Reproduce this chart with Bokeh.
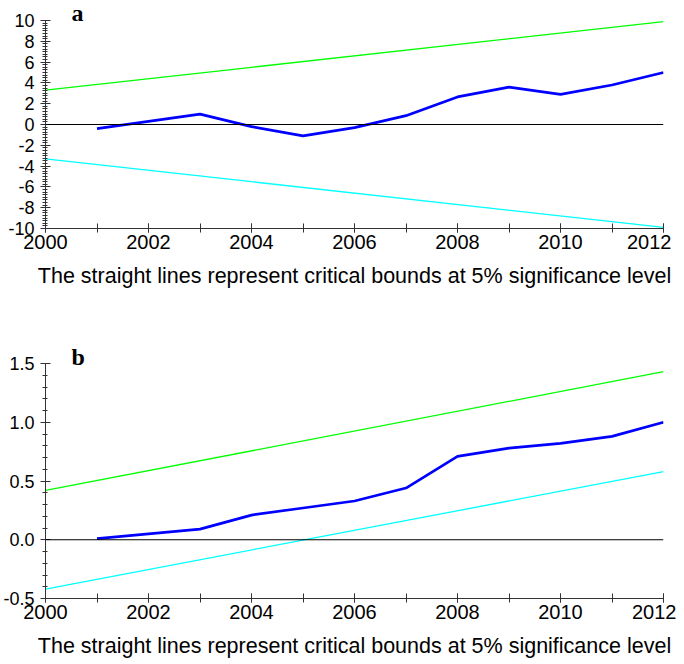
from bokeh.plotting import figure
from bokeh.layouts import column
from bokeh.models import FixedTicker, PrintfTickFormatter, Span, Range1d, Title
from bokeh.embed import file_html
from bokeh.resources import INLINE

years = [2001, 2002, 2003, 2004, 2005, 2006, 2007, 2008, 2009, 2010, 2011, 2012]
cusum = [-0.4, 0.3, 1.0, -0.2, -1.1, -0.3, 0.85, 2.65, 3.6, 2.9, 3.8, 5.0]
cusum_sq = [0.01, 0.05, 0.09, 0.21, 0.27, 0.33, 0.44, 0.71, 0.78, 0.82, 0.88, 1.0]

bound_x = [2000, 2012]
a_upper = [3.3, 9.9]
a_lower = [-3.3, -9.9]
b_upper = [0.42, 1.43]
b_lower = [-0.42, 0.58]

a_yticks = [-10, -8, -6, -4, -2, 0, 2, 4, 6, 8, 10]
b_yticks = [-0.5, 0.0, 0.5, 1.0, 1.5]
xticks = [2000, 2002, 2004, 2006, 2008, 2010, 2012]
caption = "The straight lines represent critical bounds at 5% significance level"

FONT = "Liberation Sans"


def make_panel(letter, series, upper, lower, yr, yticks, yminor, yfmt,
               frame_h, top, bottom, letter_standoff):
    p = figure(frame_width=618, frame_height=frame_h, output_backend="svg",
               toolbar_location=None,
               x_range=Range1d(2000, 2012), y_range=Range1d(*yr),
               min_border_left=37, min_border_right=13,
               min_border_top=top, min_border_bottom=bottom)
    p.outline_line_color = None
    p.xgrid.visible = False
    p.ygrid.visible = False
    p.background_fill_color = "white"
    p.border_fill_color = "white"

    p.add_layout(Span(location=0, dimension="width", line_color="black", line_width=1))
    p.line(bound_x, upper, line_color="#00ff00", line_width=1.3)
    p.line(bound_x, lower, line_color="#00ffff", line_width=1.3)
    p.line(years, series, line_color="#0000ff", line_width=2.7)

    xa = p.xaxis[0]
    xa.ticker = FixedTicker(ticks=xticks, minor_ticks=list(range(2000, 2013)))
    xa.major_tick_in = 5
    xa.major_tick_out = 4
    xa.minor_tick_in = 5
    xa.minor_tick_out = 4
    xa.axis_line_color = "#333333"
    xa.major_tick_line_color = "#333333"
    xa.minor_tick_line_color = "#333333"
    xa.major_label_text_font = FONT
    xa.major_label_text_font_size = "20px"
    xa.major_label_text_color = "black"
    xa.major_label_standoff = 2
    xa.axis_label = caption
    xa.axis_label_text_font = FONT
    xa.axis_label_text_font_size = "21.5px"
    xa.axis_label_text_font_style = "normal"
    xa.axis_label_text_color = "black"
    xa.axis_label_standoff = 12

    ya = p.yaxis[0]
    ya.ticker = FixedTicker(ticks=yticks, minor_ticks=yminor)
    ya.formatter = PrintfTickFormatter(format=yfmt)
    ya.major_tick_in = 5
    ya.major_tick_out = 5
    ya.minor_tick_in = 2
    ya.minor_tick_out = 3
    ya.axis_line_color = "#333333"
    ya.major_tick_line_color = "#333333"
    ya.minor_tick_line_color = "#333333"
    ya.major_label_text_font = FONT
    ya.major_label_text_font_size = "18px"
    ya.major_label_text_color = "black"
    ya.major_label_standoff = 6

    p.add_layout(Title(text=letter, align="left", offset=26, standoff=letter_standoff,
                       text_font="Liberation Serif", text_font_style="bold",
                       text_font_size="24px", text_color="black"), "above")
    return p


a_minor = [round(-10 + 0.25 * i, 2) for i in range(81)]
b_minor = [round(-0.5 + 0.1 * i, 2) for i in range(21)]

p1 = make_panel("a", cusum, a_upper, a_lower, (-10, 10), a_yticks, a_minor, "%d",
                208, 20, 62, -10)
p2 = make_panel("b", cusum_sq, b_upper, b_lower, (-0.5, 1.5), b_yticks, b_minor, "%.1f",
                235, 73, 56, -12)

layout = column(p1, p2, spacing=0)
open("out.html", "w").write(file_html(layout, INLINE))
